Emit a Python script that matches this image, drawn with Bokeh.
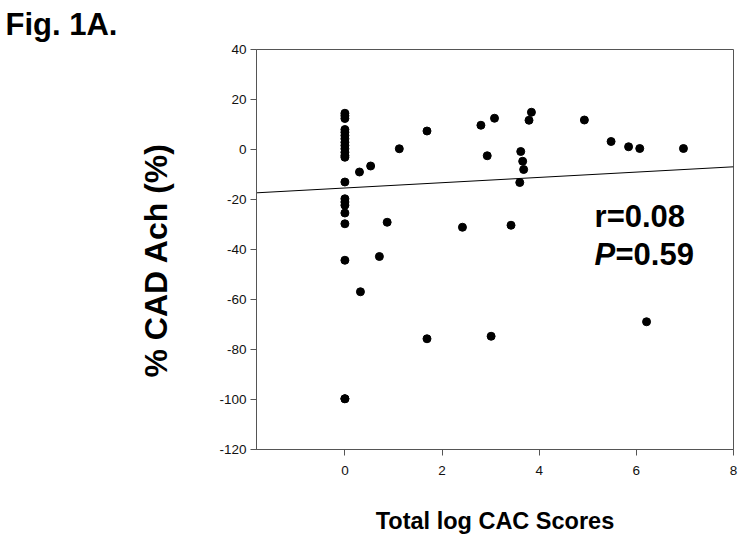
import numpy as np
from bokeh.plotting import figure
from bokeh.models import Range1d, FixedTicker, Label, ColumnDataSource, Title
from bokeh.embed import file_html
from bokeh.resources import INLINE

# ---- data ----
log_cac = [0, 0, 0, 0, 0, 0, 0, 0, 0, 0, 0, 0, 0, 0, 0, 0, 0, 0, 0, 0, 0, 0,
           0.30, 0.53, 1.12, 1.69, 0.87, 0.71, 0.32, 1.69, 2.42, 2.80, 3.08,
           2.93, 3.42, 3.01, 3.84, 3.79, 3.62, 3.66, 3.68, 3.60, 4.93, 5.48,
           5.84, 6.07, 6.97, 6.21]
cad_ach = [14.5, 13.5, 12.4, 8.0, 6.9, 5.6, 4.3, 2.9, 1.6, 0.3, -1.1, -2.4,
           -3.1, -13.0, -19.7, -21.0, -22.3, -25.4, -29.7, -44.3, -99.7, -99.7,
           -9.0, -6.6, 0.3, 7.4, -29.1, -42.8, -56.9, -75.7, -31.1, 9.7, 12.5,
           -2.5, -30.3, -74.7, 14.9, 11.7, -0.8, -4.7, -8.0, -13.2, 11.8, 3.2,
           1.1, 0.4, 0.4, -68.9]
fit_slope = 1.06
fit_intercept = -15.4
x_ticks = [0, 2, 4, 6, 8]
y_ticks = [-120, -100, -80, -60, -40, -20, 0, 20, 40]
r_text = "r=0.08"
p_text = "=0.59"

X_MIN, X_MAX = -1.82, 8
Y_MIN, Y_MAX = -120, 40

FONT = "Liberation Sans"
AX_COL = "#555555"

p = figure(width=742, height=541, output_backend="svg", toolbar_location=None,
           x_range=Range1d(X_MIN, X_MAX), y_range=Range1d(Y_MIN, Y_MAX),
           frame_width=477, frame_height=400,
           min_border_left=256, min_border_top=49, min_border_right=9,
           min_border_bottom=92)
p.background_fill_color = "white"
p.border_fill_color = "white"
p.outline_line_color = AX_COL
p.outline_line_width = 1
p.xgrid.visible = False
p.ygrid.visible = False

for ax in (p.xaxis[0], p.yaxis[0]):
    ax.axis_line_color = AX_COL
    ax.major_tick_line_color = AX_COL
    ax.major_tick_in = 0
    ax.major_tick_out = 6
    ax.minor_tick_line_color = None
    ax.major_label_text_font = FONT
    ax.major_label_text_font_size = "13.5px"
    ax.major_label_text_color = "#111111"

p.xaxis.ticker = FixedTicker(ticks=x_ticks)
p.yaxis.ticker = FixedTicker(ticks=y_ticks)
p.xaxis.major_label_overrides = {t: str(t) for t in x_ticks}
p.yaxis.major_label_overrides = {t: str(t) for t in y_ticks}
p.xaxis.major_label_standoff = 10
p.yaxis.major_label_standoff = 4

p.xaxis.axis_label = "Total log CAC Scores"
p.xaxis.axis_label_text_font = FONT
p.xaxis.axis_label_text_font_style = "bold"
p.xaxis.axis_label_text_font_size = "23.5px"
p.xaxis.axis_label_text_color = "black"
p.xaxis.axis_label_standoff = 30

# y-axis title as a side title (start-aligned so it can be offset)
p.add_layout(Title(text="% CAD Ach (%)", align="left", offset=72,
                   text_font=FONT, text_font_style="bold",
                   text_font_size="32px", text_color="black",
                   standoff=85), "left")

# figure caption at the top-left
p.title = Title(text="Fig. 1A.", align="left", offset=-251,
                vertical_align="top",
                text_font=FONT, text_font_style="bold",
                text_font_size="31px", text_color="black", standoff=12)

src = ColumnDataSource(dict(x=log_cac, y=cad_ach))
p.scatter("x", "y", source=src, size=8, fill_color="black", line_color="black")

fx = np.array([X_MIN, X_MAX])
p.line(fx, fit_intercept + fit_slope * fx, line_color="black", line_width=1)

def lab(x, y, text, style="bold"):
    p.add_layout(Label(x=x, y=y, text=text, text_font=FONT,
                       text_font_style=style, text_font_size="31px",
                       text_color="black"))

lab(5.14, -33.6, r_text)
lab(5.14, -49.0, "P", style="bold italic")
lab(5.57, -49.0, p_text)

open("out.html", "w").write(file_html(p, INLINE))
